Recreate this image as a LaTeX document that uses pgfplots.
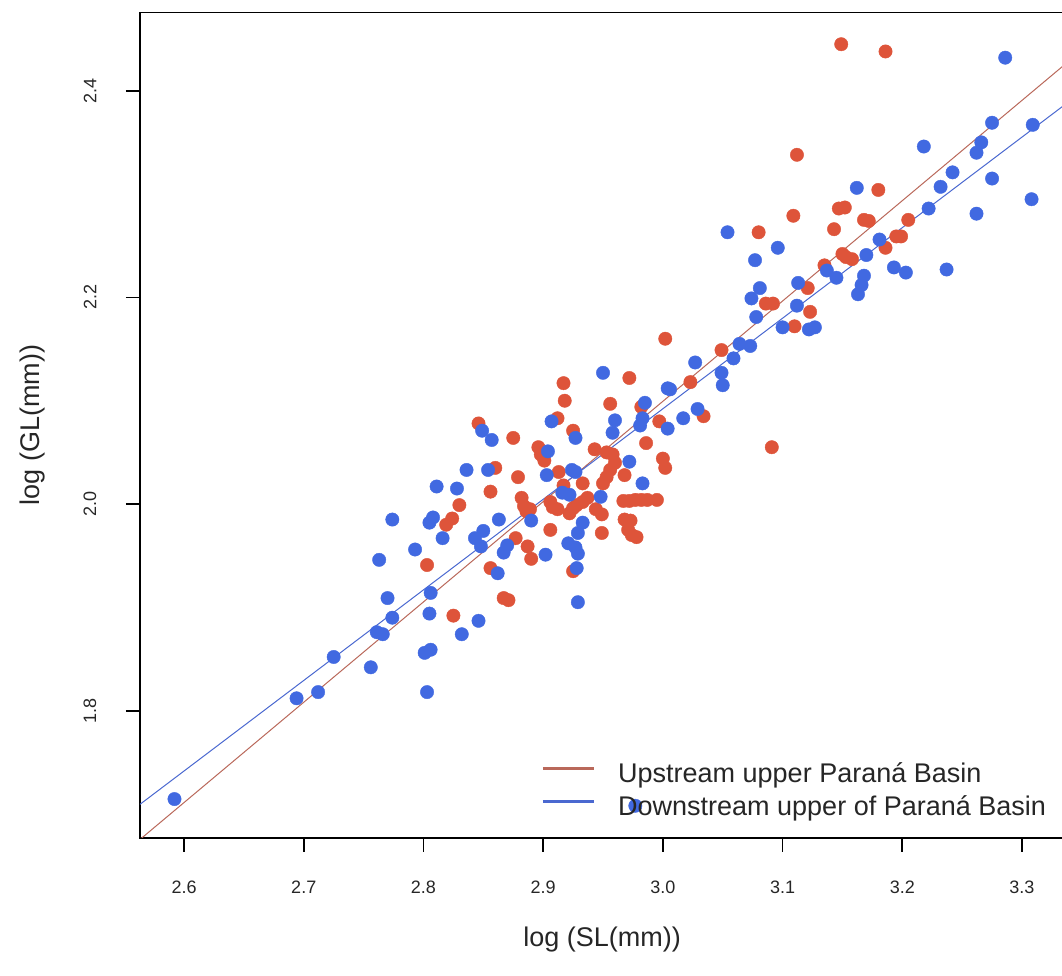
\documentclass[border=0pt]{standalone}
\usepackage{fontspec}
\setmainfont{Liberation Sans}
\usepackage{pgfplots}
\pgfplotsset{compat=1.18}
\definecolor{upred}{HTML}{DE543A}
\definecolor{downblue}{HTML}{4169E1}
\definecolor{upline}{HTML}{B9685A}
\definecolor{downline}{HTML}{4A68D0}

\begin{document}
\begin{tikzpicture}
\useasboundingbox (-70pt,-69.15pt) rectangle (461pt,418.85pt);
\begin{axis}[
    at={(0pt,0pt)}, anchor=south west,
    scale only axis,
    width=476.9pt, height=412.7pt,
    xmin=2.5632, xmax=3.36, ymin=1.6771, ymax=2.4759,
    xtick={2.6,2.7,2.8,2.9,3.0,3.1,3.2,3.3},
    ytick={1.8,2.0,2.2,2.4},
    tick pos=left, tick align=outside,
    major tick length=7pt,
    axis line style={line width=0.8pt},
    tick style={black, line width=0.8pt},
    /pgf/number format/assume math mode=true,
    /pgf/number format/.cd, fixed, fixed zerofill, precision=1, /pgfplots/.cd,
    ticklabel style={font=\fontsize{9}{11}\selectfont, text=black!85},
    xticklabel style={anchor=center},
    yticklabel style={anchor=center, rotate=90},
    xticklabel shift=18pt,
    yticklabel shift=18pt,
    xlabel={log (SL(mm))},
    ylabel={log (GL(mm))},
    label style={font=\fontsize{13.5}{16}\selectfont, text=black!85},
    xlabel style={at={(axis description cs:0.4844,-0.1236)}, anchor=center},
    ylabel style={at={(axis description cs:-0.1132,0.5)}, anchor=center, rotate=0},
    legend cell align=left,
    legend style={draw=none, fill=none, at={(axis cs:2.8982,1.7506)}, anchor=north west,
        inner sep=0pt, row sep=3.7pt, column sep=11.5pt,
        font=\fontsize{13.5}{16}\selectfont, text=black!85,
        nodes={inner sep=0pt, text height=10pt, text depth=3pt, anchor=base west}},
    legend image code/.code={\draw[#1, line width=1.4pt] (0pt,6.85pt) -- (25.5pt,6.85pt);},
]
% upstream points
\addplot[only marks, color=upred, mark=*, mark size=3.35pt,
    mark options={solid, draw=upred, fill=upred, line width=0.2pt}, forget plot] coordinates {
(3.149,2.445) (3.186,2.438) (3.112,2.338) (3.180,2.304) (3.147,2.286) (3.152,2.287)
(3.109,2.279) (3.080,2.263) (3.143,2.266) (3.168,2.275) (3.172,2.274) (3.205,2.275)
(3.195,2.259) (3.199,2.259) (3.186,2.248) (3.150,2.242) (3.153,2.239) (3.158,2.237)
(3.135,2.231) (3.121,2.209) (3.086,2.194) (3.092,2.194) (3.123,2.186) (3.110,2.172)
(3.002,2.160) (3.049,2.149) (3.091,2.055)
(2.972,2.122) (2.917,2.117) (3.023,2.118) (2.918,2.100) (2.956,2.097) (2.982,2.094)
(2.912,2.083) (2.997,2.080) (3.034,2.085) (2.846,2.078) (2.925,2.071) (2.875,2.064)
(2.986,2.059) (2.896,2.055) (2.898,2.048) (2.901,2.042) (2.943,2.053) (2.953,2.050)
(2.958,2.048) (2.960,2.040) (2.956,2.033) (2.953,2.026) (2.950,2.020) (3.000,2.044)
(3.002,2.035) (2.913,2.031) (2.860,2.035) (2.879,2.026) (2.933,2.020) (2.968,2.028)
(2.917,2.018) (2.856,2.012) (2.830,1.999) (2.882,2.006) (2.884,1.998) (2.886,1.993)
(2.889,1.995) (2.906,2.002) (2.908,1.997) (2.912,1.995) (2.922,1.991) (2.925,1.996)
(2.928,1.999) (2.933,2.002) (2.937,2.006) (2.944,1.995) (2.949,1.990) (2.967,2.003)
(2.972,2.003) (2.977,2.004) (2.982,2.004) (2.987,2.004) (2.995,2.004) (2.824,1.986)
(2.819,1.980) (2.968,1.985) (2.973,1.984) (2.971,1.975) (2.974,1.970) (2.978,1.968)
(2.906,1.975) (2.949,1.972) (2.877,1.967) (2.887,1.959) (2.890,1.947) (2.803,1.941)
(2.856,1.938) (2.867,1.909) (2.871,1.907) (2.825,1.892) (2.925,1.935)
};
% downstream points
\addplot[only marks, color=downblue, mark=*, mark size=3.35pt,
    mark options={solid, draw=downblue, fill=downblue, line width=0.2pt}, forget plot] coordinates {
(3.286,2.432) (3.275,2.369) (3.309,2.367) (3.218,2.346) (3.266,2.350) (3.262,2.340)
(3.242,2.321) (3.232,2.307) (3.275,2.315) (3.308,2.295) (3.222,2.286) (3.262,2.281)
(3.162,2.306) (3.054,2.263) (3.096,2.248) (3.077,2.236) (3.081,2.209) (3.074,2.199)
(3.113,2.214) (3.181,2.256) (3.170,2.241) (3.137,2.226) (3.145,2.219) (3.168,2.221)
(3.166,2.212) (3.163,2.203) (3.193,2.229) (3.203,2.224) (3.237,2.227) (3.112,2.192)
(3.078,2.181) (3.100,2.171) (3.122,2.169) (3.127,2.171) (3.064,2.155) (3.073,2.153)
(3.059,2.141)
(2.950,2.127) (3.027,2.137) (3.049,2.127) (3.050,2.115) (3.004,2.112) (3.006,2.111)
(2.985,2.098) (2.983,2.083) (2.981,2.076) (2.960,2.081) (2.958,2.069) (2.907,2.080)
(3.029,2.092) (3.017,2.083) (3.004,2.073) (2.849,2.071) (2.857,2.062) (2.927,2.064)
(2.904,2.051) (2.972,2.041) (2.836,2.033) (2.854,2.033) (2.903,2.028) (2.924,2.033)
(2.927,2.031) (2.983,2.020) (2.811,2.017) (2.828,2.015) (2.916,2.011) (2.922,2.009)
(2.948,2.007) (2.808,1.987) (2.805,1.982) (2.863,1.985) (2.890,1.984) (2.933,1.982)
(2.929,1.972) (2.850,1.974) (2.843,1.967) (2.848,1.959) (2.816,1.967) (2.870,1.960)
(2.867,1.953) (2.921,1.962) (2.927,1.958) (2.929,1.952) (2.902,1.951) (2.928,1.938)
(2.929,1.905) (2.862,1.933)
(2.774,1.985) (2.793,1.956) (2.763,1.946) (2.806,1.914) (2.770,1.909) (2.774,1.890)
(2.805,1.894) (2.846,1.887) (2.761,1.876) (2.766,1.874) (2.832,1.874) (2.801,1.856)
(2.806,1.859) (2.725,1.852) (2.756,1.842) (2.694,1.812) (2.712,1.818) (2.803,1.818)
(2.592,1.7145) (2.977,1.708)
};
% fitted lines
\addplot[upline, line width=0.5pt] coordinates {(2.5632,1.6754) (3.36,2.4489)};
\addplot[downline, line width=0.5pt] coordinates {(2.5632,1.7094) (3.36,2.4077)};
\legend{Upstream upper Paraná Basin, Downstream upper of Paraná Basin}
\end{axis}
\end{tikzpicture}
\end{document}
